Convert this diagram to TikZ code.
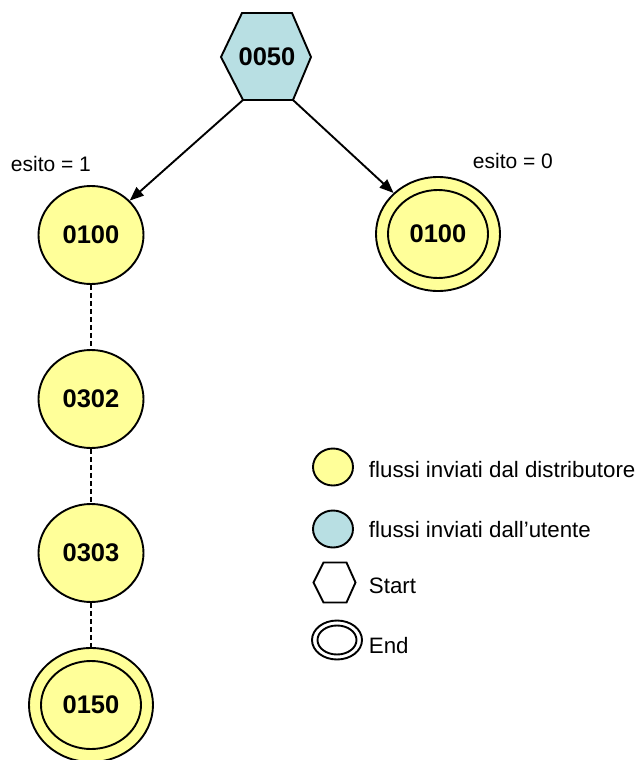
\documentclass[tikz,border=0pt]{standalone}
\usepackage{fontspec}
\setmainfont{Liberation Sans}
\usetikzlibrary{calc, shapes.geometric, arrows.meta}

\definecolor{giallo}{RGB}{255,255,153}
\definecolor{azzurro}{RGB}{184,223,227}

\begin{document}
\begin{tikzpicture}[x=1pt, y=-1pt, line width=1.9pt,
 stato/.style={ellipse, draw, fill=giallo, inner sep=0pt, minimum width=105pt, minimum height=98pt, font=\fontsize{25.5}{30}\selectfont\bfseries},
 fine/.style={stato, minimum width=124pt, minimum height=114pt},
 segno/.style={ellipse, draw, inner sep=0pt, minimum width=40pt, minimum height=37pt},
 testo/.style={anchor=base west, inner sep=0pt, font=\fontsize{22.3}{26}\selectfont}]
 \useasboundingbox (0,0) rectangle (641,760);

 %開始の六角形
 \coordinate (H1) at (221,57);
 \coordinate (H2) at (242,13);
 \coordinate (H3) at (292,13);
 \coordinate (H4) at (311,57);
 \coordinate (H5) at (293,100);
 \coordinate (H6) at (243,100);
 \draw [fill=azzurro] (H1) -- (H2) -- (H3) -- (H4) -- (H5) -- (H6) -- cycle;
 \node [font=\fontsize{25.5}{30}\selectfont\bfseries] (S) at (267,57) {0050};

 \node [stato] (A) at (91,235) {0100};
 \node [fine] (B) at (438,234) {0100};
 \draw (B) ellipse [x radius=50pt, y radius=44pt];
 \node [stato] (C) at (91,399) {0302};
 \node [stato] (D) at (91,553) {0303};
 \node [fine] (E) at (91,705) {0150};
 \draw (E) ellipse [x radius=50pt, y radius=44pt];

 \draw [-{Triangle[length=14pt, width=11pt]}] (H6) -- (A);
 \draw [-{Triangle[length=14pt, width=11pt]}] (H5) -- (B);
 \draw [dash pattern=on 5pt off 3pt, line width=1.7pt] (A) -- (C) (C) -- (D) (D) -- (E);

 \node [testo, font=\fontsize{21}{25}\selectfont] (e1) at (10,171) {esito = 1};
 \node [testo, font=\fontsize{21}{25}\selectfont] (e0) at (472,168) {esito = 0};

 %凡例
 \node [segno, fill=giallo] (L1) at (333,467) {};
 \node [segno, fill=azzurro] (L2) at (333,529) {};
 \coordinate (L3) at (334.5,582.5);
 \draw ($(L3)+(-21,0)$) -- ($(L3)+(-11,-20)$) -- ($(L3)+(12,-20)$) -- ($(L3)+(21,0)$) -- ($(L3)+(12,20)$) -- ($(L3)+(-11,20)$) -- cycle;
 \node [segno, minimum width=50pt, minimum height=39pt] (L4) at (337,640) {};
 \draw (L4) ellipse [x radius=19.5pt, y radius=14.5pt];

 \node [testo] (t1) at (368,477) {flussi inviati dal distributore};
 \node [testo] (t2) at (368,537) {flussi inviati dall’utente};
 \node [testo] (t3) at (368,593) {Start};
 \node [testo] (t4) at (368,653) {End};
\end{tikzpicture}
\end{document}
